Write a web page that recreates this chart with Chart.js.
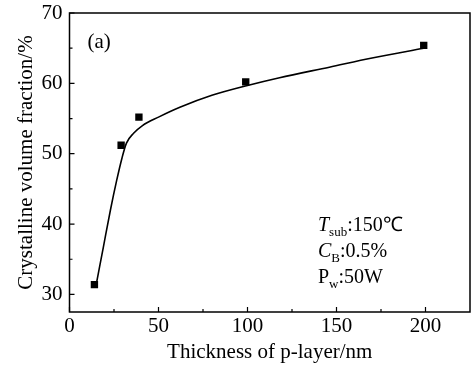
<!DOCTYPE html>
<html><head><meta charset="utf-8">
<script src="https://cdn.jsdelivr.net/npm/chart.js@4.4.1/dist/chart.umd.min.js"></script>
<style>html,body{margin:0;padding:0;background:#fff}#wrap{width:472px;height:367px}</style>
</head><body><div id="wrap"><canvas id="c" width="472" height="367"></canvas></div>
<script>
const thickness = [14, 29, 39, 99, 199];
const fraction = [31.4, 51.2, 55.2, 60.2, 65.4];
const fitX = [15, 19, 23, 26.5, 29.5, 32, 36, 41, 50, 62, 80, 100, 118, 146, 170, 199];
const fitY = [31.4, 36.7, 42.0, 46.2, 49.4, 51.5, 52.9, 54.0, 55.2, 56.6, 58.3, 59.7, 60.8, 62.3, 63.6, 65.0];
const xTicks = [0, 50, 100, 150, 200];
const yTicks = [30, 40, 50, 60, 70];
const xMinor = [25, 75, 125, 175];
const yMinor = [35, 45, 55, 65];
const xTitle = 'Thickness of p-layer/nm';
const yTitle = 'Crystalline volume fraction/%';
const panelLabel = '(a)';
const notes = [
  {main: 'T', sub: 'sub', rest: ':150\u2103', italic: true},
  {main: 'C', sub: 'B', rest: ':0.5%', italic: true},
  {main: 'P', sub: 'w', rest: ':50W', italic: false}
];
const SERIF = '"Liberation Serif","Times New Roman",serif';

const framePlugin = {
  id: 'frame',
  afterDraw(chart) {
    const {ctx, chartArea: a, scales} = chart;
    const xs = scales.x, ys = scales.y;
    ctx.save();
    ctx.strokeStyle = '#000';
    ctx.lineWidth = 1.5;
    ctx.strokeRect(a.left, a.top, a.right - a.left, a.bottom - a.top);
    ctx.lineWidth = 1.2;
    ctx.beginPath();
    xTicks.forEach(v => { const p = xs.getPixelForValue(v); ctx.moveTo(p, a.bottom); ctx.lineTo(p, a.bottom - 5); });
    xMinor.forEach(v => { const p = xs.getPixelForValue(v); ctx.moveTo(p, a.bottom); ctx.lineTo(p, a.bottom - 3); });
    yTicks.forEach(v => { const p = ys.getPixelForValue(v); ctx.moveTo(a.left, p); ctx.lineTo(a.left + 5, p); });
    yMinor.forEach(v => { const p = ys.getPixelForValue(v); ctx.moveTo(a.left, p); ctx.lineTo(a.left + 3, p); });
    ctx.stroke();
    ctx.fillStyle = '#000';
    ctx.textBaseline = 'alphabetic';
    ctx.font = '21px ' + SERIF;
    ctx.fillText(panelLabel, a.left + 18, a.top + 35);
    let base = 231;
    const x0 = 318;
    notes.forEach(n => {
      let x = x0;
      ctx.font = (n.italic ? 'italic ' : '') + '20px ' + SERIF;
      ctx.fillText(n.main, x, base);
      x += ctx.measureText(n.main).width;
      ctx.font = '13px ' + SERIF;
      ctx.fillText(n.sub, x, base + 5);
      x += ctx.measureText(n.sub).width;
      ctx.font = '20px ' + SERIF;
      ctx.fillText(n.rest, x, base);
      base += 26;
    });
    ctx.restore();
  }
};

new Chart(document.getElementById('c'), {
  type: 'scatter',
  data: {
    datasets: [
      {
        type: 'line',
        data: fitX.map((x, i) => ({x, y: fitY[i]})),
        borderColor: '#000', borderWidth: 1.6, pointRadius: 0,
        cubicInterpolationMode: 'monotone', fill: false
      },
      {
        data: thickness.map((x, i) => ({x, y: fraction[i]})),
        pointStyle: 'rect', pointRadius: 5.2,
        backgroundColor: '#000', borderColor: '#000', borderWidth: 0
      }
    ]
  },
  options: {
    responsive: false, animation: false,
    layout: {autoPadding: false, padding: {top: 13, right: 2, left: 0, bottom: 0}},
    plugins: {legend: {display: false}, tooltip: {enabled: false}},
    scales: {
      x: {
        type: 'linear', min: 0, max: 225,
        grid: {display: false, drawTicks: false}, border: {display: false},
        afterBuildTicks: s => { s.ticks = xTicks.map(v => ({value: v})); },
        afterFit: s => { s.height = 55; s.paddingLeft = 0; s.paddingRight = 0; },
        ticks: {color: '#000', padding: 2, maxRotation: 0, font: {family: SERIF, size: 21}},
        title: {display: true, text: xTitle, color: '#000', padding: {top: 0, bottom: 2}, font: {family: SERIF, size: 21}}
      },
      y: {
        type: 'linear', min: 27.5, max: 70,
        grid: {display: false, drawTicks: false}, border: {display: false},
        afterBuildTicks: s => { s.ticks = yTicks.map(v => ({value: v})); },
        afterFit: s => { s.width = 69.5; s.paddingTop = 0; s.paddingBottom = 0; },
        ticks: {color: '#000', padding: 7, font: {family: SERIF, size: 21}},
        title: {display: true, text: yTitle, color: '#000', padding: {top: 14, bottom: 0}, font: {family: SERIF, size: 21}}
      }
    }
  },
  plugins: [framePlugin]
});
</script></body></html>
